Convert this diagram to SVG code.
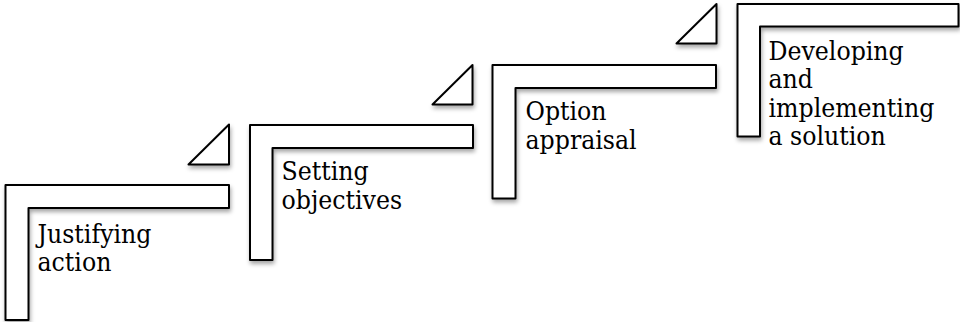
<svg xmlns="http://www.w3.org/2000/svg" width="960" height="322" viewBox="0 0 960 322">
  <defs>
    <filter id="shadow" x="-10%" y="-10%" width="130%" height="140%">
      <feDropShadow dx="1" dy="3" stdDeviation="2" flood-color="#000" flood-opacity="0.35"/>
    </filter>
  </defs>
  <style>
    .shape { fill: #fff; stroke: #000; stroke-width: 2; stroke-linejoin: round; filter: url(#shadow); }
    .label { font-family: "DejaVu Serif Condensed", "DejaVu Serif", serif; font-stretch: condensed; font-size: 26.3px; fill: #000; }
  </style>
  <rect width="960" height="322" fill="#fff"/>

  <!-- Step 1 -->
  <g id="step-justifying">
    <path class="shape" d="M5.5,185 H229 V208 H28.5 V320 H5.5 Z"/>
    <text class="label" x="37.5" y="243">Justifying</text>
    <text class="label" x="37.5" y="271">action</text>
  </g>

  <!-- Step 2 -->
  <g id="step-objectives">
    <path class="shape" d="M229,124.5 V164.5 H188.5 Z"/>
    <path class="shape" d="M250,125 H473 V148 H272.5 V260 H250 Z"/>
    <text class="label" x="281.5" y="180">Setting</text>
    <text class="label" x="281.5" y="208.5">objectives</text>
  </g>

  <!-- Step 3 -->
  <g id="step-appraisal">
    <path class="shape" d="M472.5,65 V104.5 H432.5 Z"/>
    <path class="shape" d="M492.5,65 H716 V88 H515.5 V198.5 H492.5 Z"/>
    <text class="label" x="525.5" y="120">Option</text>
    <text class="label" x="525.5" y="148.5">appraisal</text>
  </g>

  <!-- Step 4 -->
  <g id="step-solution">
    <path class="shape" d="M716.5,4 V43.5 H676.5 Z"/>
    <path class="shape" d="M737.5,4 H958.5 V26.5 H760 V136.5 H737.5 Z"/>
    <text class="label" x="768.5" y="59.5">Developing</text>
    <text class="label" x="768.5" y="88">and</text>
    <text class="label" x="768.5" y="116.5">implementing</text>
    <text class="label" x="768.5" y="145">a solution</text>
  </g>

  <g id="connectors"/>
</svg>
